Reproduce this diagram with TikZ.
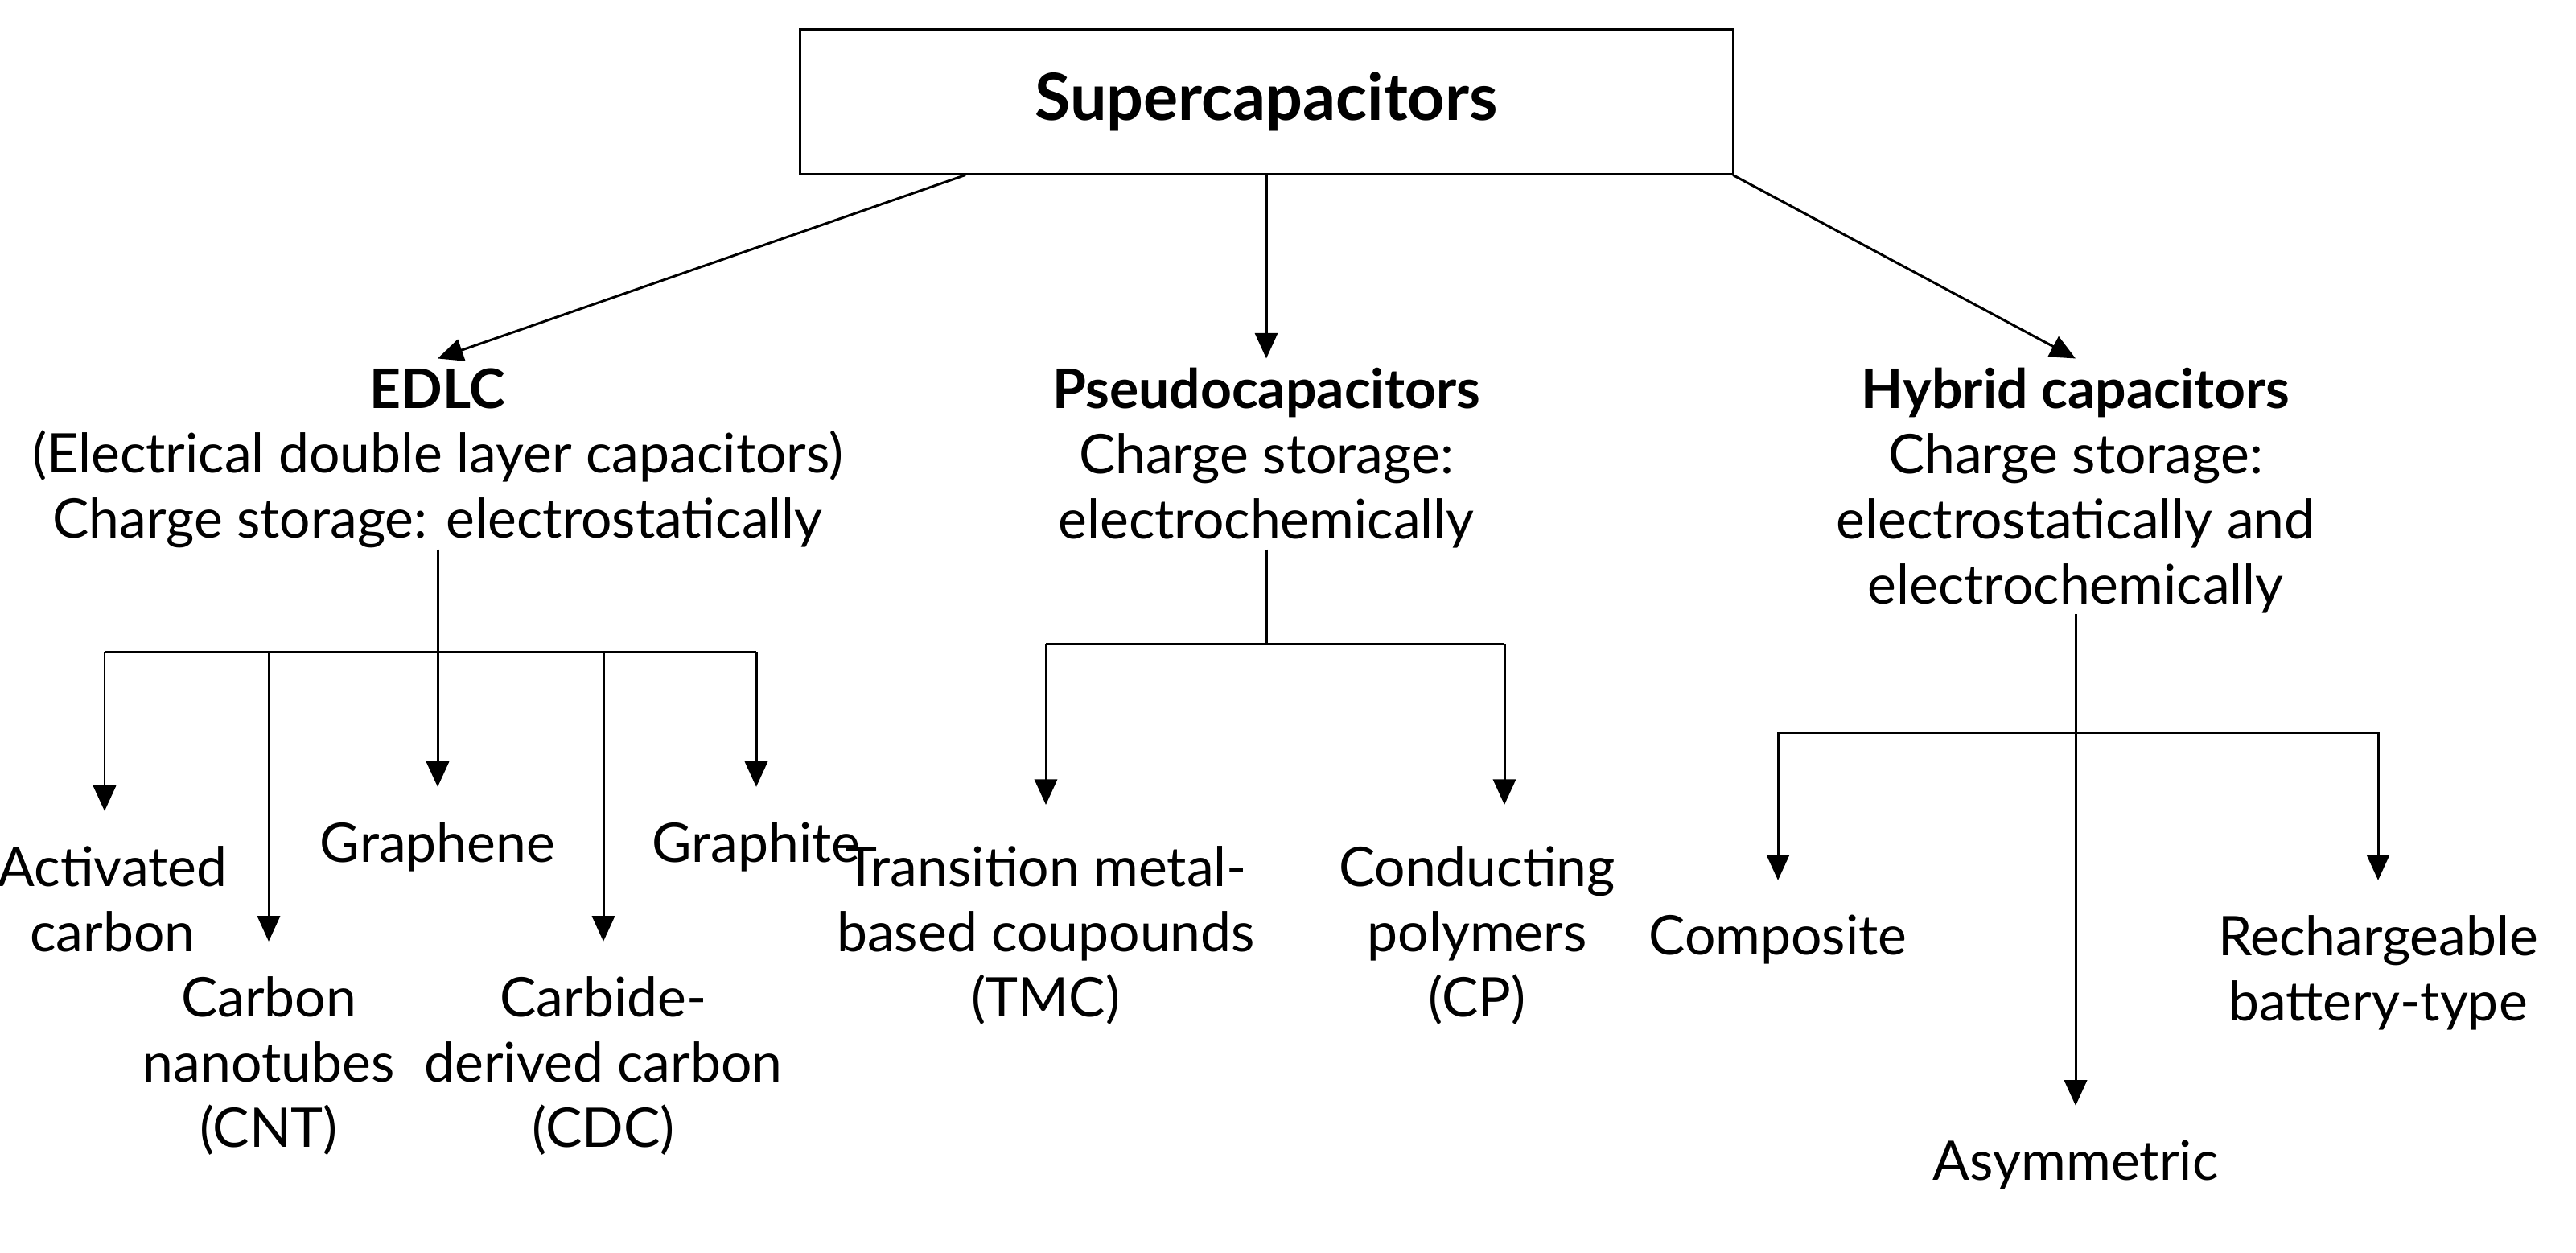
\documentclass[tikz,border=0pt]{standalone}
\usepackage{fontspec}
\setmainfont{Lato}
\usetikzlibrary{arrows.meta}
\begin{document}
\begin{tikzpicture}[x=0.02cm,y=-0.02cm,line width=0.85pt,
  every node/.style={inner sep=0pt,align=center,font=\fontsize{19.3}{23}\selectfont},
  arr/.style={-{Triangle[length=9pt,width=8pt]}},
  hd/.style={anchor=north},
  leaf/.style={anchor=north}]
\useasboundingbox (0,0) rectangle (1601,778);
% root
\node [draw,minimum width=580*0.02cm,minimum height=90*0.02cm,font=\fontsize{23}{27}\selectfont\bfseries] (sc) at (787,63) {Supercapacitors};
% three families
\node [hd] (edlc) at (272,228) {\textbf{EDLC}\\(Electrical double layer capacitors)\\Charge storage: electrostatically};
\node [hd] (pseudo) at (787,228) {\textbf{Pseudocapacitors}\\Charge storage:\\electrochemically};
\node [hd] (hybrid) at (1290,228) {\textbf{Hybrid capacitors}\\Charge storage:\\electrostatically and\\electrochemically};
\draw [arr] (sc.south -| 600,0) -- ([yshift=3pt]edlc.north);
\draw [arr] (sc.south) -- ([yshift=3pt]pseudo.north);
\draw [arr] (sc.south -| 1077,0) -- ([yshift=3pt]hybrid.north);
% EDLC leaves
\node [leaf] (ac) at (70,525) {Activated\\carbon};
\node [leaf] (cnt) at (167,606) {Carbon\\nanotubes\\(CNT)};
\node [leaf] (gr) at (272,510) {Graphene};
\node [leaf] (cdc) at (375,606) {Carbide-\\derived carbon\\(CDC)};
\node [leaf] (gt) at (470,510) {Graphite};
\coordinate (ebar) at (272,405);
\draw (edlc.south) -- (ebar);
\draw (65,405) -- (gt.north |- ebar);
\draw [arr] (ebar) -- ([yshift=12pt]gr.north);
\draw [arr] (65,405) -- ([yshift=12pt]ac.north -| 65,0);
\foreach \n in {cnt,cdc,gt}
  \draw [arr] (\n.north |- ebar) -- ([yshift=12pt]\n.north);
% pseudo leaves
\node [leaf] (tmc) at (650,525) {Transition metal-\\based coupounds\\(TMC)};
\node [leaf] (cp) at (918,525) {Conducting\\polymers\\(CP)};
\coordinate (pbar) at (787,400);
\coordinate (pl) at (650,400);
\coordinate (pr) at (935,400);
\draw (pseudo.south) -- (pbar);
\draw (pl) -- (pr);
\draw [arr] (pl) -- (650,500);
\draw [arr] (pr) -- (935,500);
% hybrid leaves
\node [leaf] (comp) at (1105,568) {Composite};
\node [leaf] (asym) at (1290,708) {Asymmetric};
\node [leaf] (rb) at (1478,568) {Rechargeable\\battery-type};
\coordinate (hbar) at (1290,455);
\draw (comp.north |- hbar) -- (rb.north |- hbar);
\draw [arr] (hybrid.south) -- ([yshift=12pt]asym.north);
\draw [arr] (comp.north |- hbar) -- ([yshift=12pt]comp.north);
\draw [arr] (rb.north |- hbar) -- ([yshift=12pt]rb.north);
\end{tikzpicture}
\end{document}
